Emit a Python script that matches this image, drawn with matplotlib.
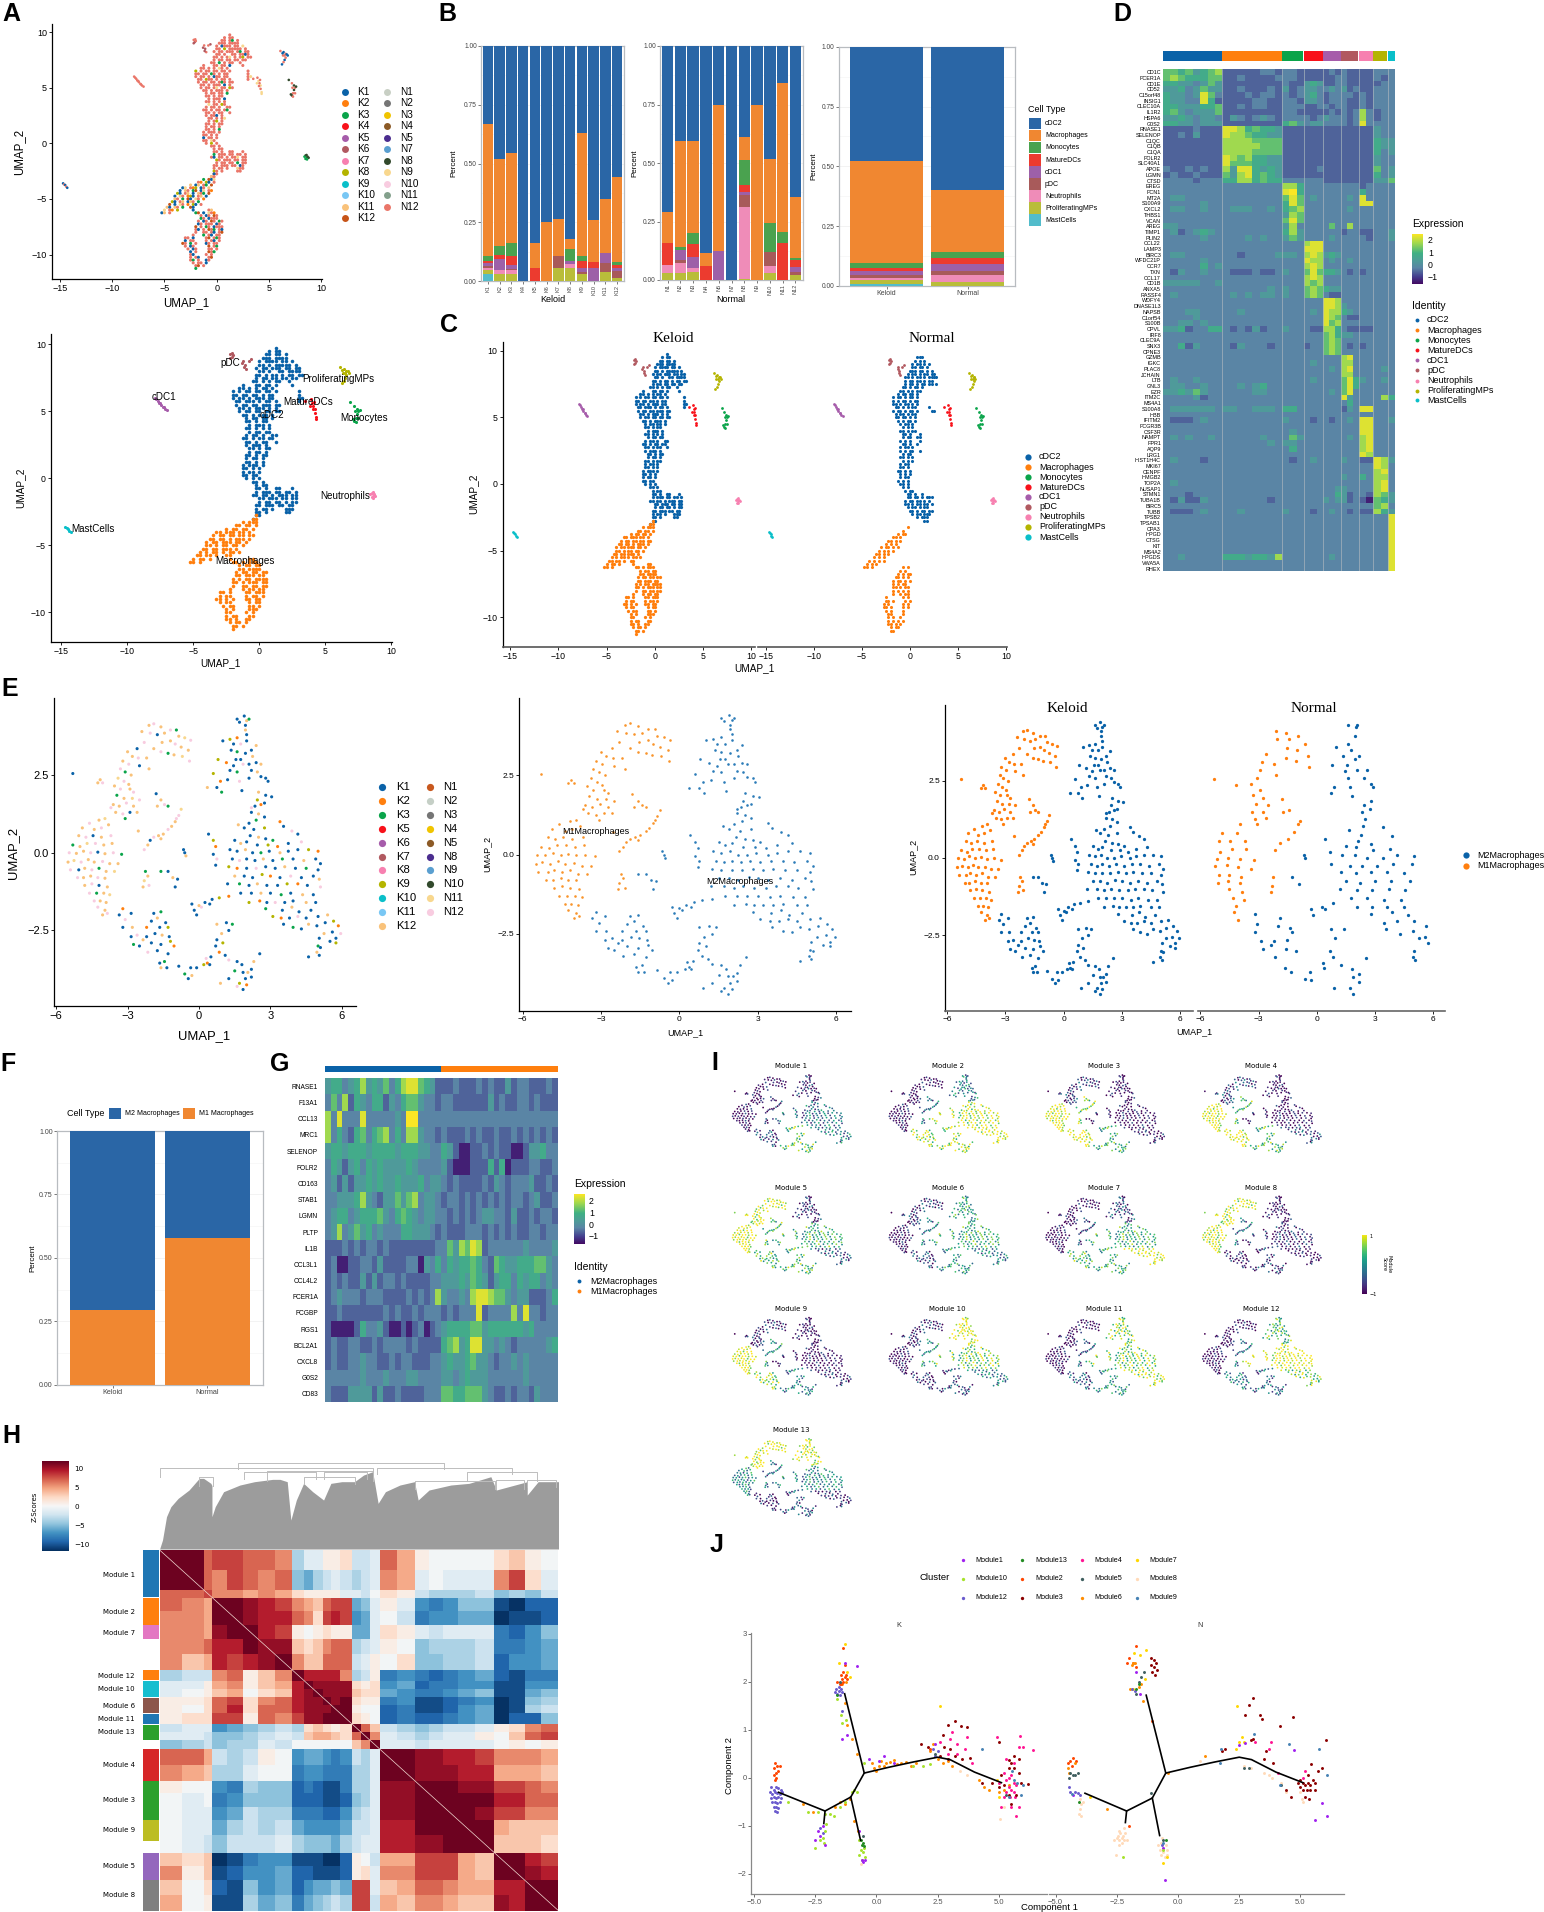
import numpy as np
import matplotlib
matplotlib.use('Agg')
import matplotlib.pyplot as plt
from matplotlib.colors import LinearSegmentedColormap
from matplotlib.patches import Rectangle
from matplotlib.lines import Line2D

plt.rcParams['font.family'] = ['Liberation Sans', 'DejaVu Sans']
W, H = 1544, 1912
fig = plt.figure(figsize=(W / 100, H / 100), dpi=100)

# ---------- data ----------
cell_types = ['cDC2', 'Macrophages', 'Monocytes', 'MatureDCs', 'cDC1', 'pDC', 'Neutrophils', 'ProliferatingMPs', 'MastCells']
type_colors = ['#0a62a8', '#ff7f0e', '#0aa44a', '#f8111a', '#a65caa', '#b15960', '#f780b0', '#b4b400', '#0abfc9']
bar_colors = ['#2a66a6', '#f08731', '#4aa24f', '#ec3b2f', '#9d60a8', '#a85a5a', '#ef8cb8', '#b9bd3a', '#52bccb']
sample_colors = {'K1': '#0a62a8', 'K2': '#ff7f0e', 'K3': '#0aa44a', 'K4': '#f8111a', 'K5': '#a65caa', 'K6': '#b15960',
                 'K7': '#f780b0', 'K8': '#b4b400', 'K9': '#0abfc9', 'K10': '#79c7f4', 'K11': '#f9c27a', 'K12': '#c75418',
                 'N1': '#c8cfc4', 'N2': '#757575', 'N3': '#f0c400', 'N4': '#8c5a26', 'N5': '#4b2d8f', 'N7': '#5a9fd0',
                 'N8': '#32492c', 'N9': '#f8d78e', 'N10': '#f8cce0', 'N11': '#83a08c', 'N12': '#ea7669'}
samples_K = ['K1', 'K2', 'K3', 'K4', 'K5', 'K6', 'K7', 'K8', 'K9', 'K10', 'K11', 'K12']
samples_N = ['N1', 'N2', 'N3', 'N4', 'N5', 'N7', 'N8', 'N9', 'N10', 'N11', 'N12']
e_samples_K = ['K1', 'K2', 'K3', 'K5', 'K6', 'K7', 'K8', 'K9', 'K10', 'K11', 'K12']
e_samples_N = ['N1', 'N2', 'N3', 'N4', 'N5', 'N8', 'N9', 'N10', 'N11', 'N12']
e_colors_N = ['#c8581e', '#c5cfc6', '#757575', '#f0c400', '#8c5a26', '#4b2d8f', '#5a9fd0', '#32492c', '#f8d78e', '#f8cce0']
e_colors_K = ['#0a62a8', '#ff7f0e', '#0aa44a', '#f8111a', '#a65caa', '#b15960', '#f780b0', '#b4b400', '#0abfc9', '#79c7f4', '#f9c27a']
e_sample_colors = dict(zip(e_samples_K + e_samples_N, e_colors_K + e_colors_N))

# fractions bottom-up order: Mast, Prolif, Neut, pDC, cDC1, Mature, Mono, Mac, cDC2
stack_K = [
    [.03, .015, .01, .01, .01, .01, .02, .565, .33],
    [0, .03, .015, 0, .05, .015, .04, .37, .48],
    [0, .03, .015, .005, .02, .035, .055, .385, .455],
    [0, 0, 0, 0, 0, 0, 0, 0, 1],
    [0, 0, 0, 0, 0, .055, 0, .105, .84],
    [0, 0, 0, 0, 0, 0, 0, .25, .75],
    [0, .055, 0, .05, 0, 0, 0, .16, .735],
    [0, .057, .015, 0, .015, 0, .05, .043, .82],
    [0, .03, 0, .01, .015, .03, .02, .525, .37],
    [0, 0, 0, 0, .055, .025, 0, .178, .742],
    [0, .04, 0, .035, .045, 0, 0, .227, .653],
    [0, .012, 0, .03, .015, .012, .011, .362, .558]]
stack_N = [
    [0, .03, .035, 0, 0, .095, 0, .13, .71],
    [0, .03, .042, .015, .04, 0, .015, .45, .408],
    [0, .033, .017, 0, .05, .052, .05, .39, .408],
    [0, 0, 0, 0, 0, .058, 0, .058, .884],
    [0, 0, 0, 0, .125, 0, 0, .625, .25],
    [0, 0, 0, 0, 0, 0, 0, 0, 1],
    [0, .003, .31, .05, .012, .033, .105, .10, .39],
    [0, 0, 0, 0, 0, 0, 0, .75, .25],
    [0, .03, .03, .06, 0, 0, .123, .272, .485],
    [0, 0, 0, 0, 0, .157, .05, .635, .158],
    [0, .02, 0, .015, .022, .028, .01, .26, .645]]
stack_total = [[.01, .017, .005, .013, .017, .013, .02, .427, .478],
               [0, .017, .03, .016, .027, .027, .023, .26, .60]]
m1_share = [.293, .58]

cdc2_k_rows = [
"               #", "             # ##", "            ## ## #", "           ### #### ", "          # #### ## #",
"          ## # ##### #", "         # ## ### ## ##", "          ## #  ## ####", "         ## # ## # ## ##", "         # ## ## ## ## ",
"        ## # # ##  #  ", "     #   ## ## #    #", "    ## # # ## #  ", "  # # ## ## ## #      #", "  ## ## ## # ##       #",
"  # ## # ### ##       ##", "   ## ### # ## #      #", "   # ## ## ### ##", "    ## # ### # #", "    # ## ## ## ##",
"     ## # ### #", "      # ## ## #", "      ## # ## ", "       # ### #", "      ## # # #", "       # ## ##",
"      # ## #  ##", "     ## # ## ## ", "      ## # ##  #", "      # ### #", "       ## # ##", "       # ## #",
"      ## # ##", "      # ## #", "      ## # #", "     # ### #", "     ## # #", "     # ## #", "     ## ## ", "      # # #",
"        ## #", "         # ##", "         ## #  ##   #", "         # ### ## ## #", "        ## ## # ### ##",
"          ## ### ## ##", "          # ## ## # ##", "         ## ### ## ##", "         # ## #   ###", "         ## #     ##",
"         ## ", "        #"]
mac_k_rows = [
"                     #", "                    ##", "                 # ###", "               ## ## #", "            # ## ## #",
"         ## ### ## #", "        # ## ## ## ##", "       ## ## # ### #", "      # ## ### ## #", "      ## # ## ## #",
"     ## ## ### #", "    # # ## # ## #", "   ## ## #  ## ", "  # ## #     #     ##", " ## #         ## # ###",
"                # ## ##", "                ## #### ", "               # ## ## ##", "               ## ### ## ",
"              # # ## ####", "              ## # ### ##", "              #  ## ## ##", "             #   # ## ## ",
"          ## #    ## ###", "          # ##    # ## #", "         ## # #   ## ##", "          # ##     # ##",
"           # ##    ## #", "            # #    ###", "            ##    # #", "            # ##   ##",
"            ## #  ##", "             # ## #", "              ## #", "              # "]
cdc2_n_rows = [
"             ###", "            # # #", "           # ## # #", "           ## ## # ", "          ### ## # #", "         # ## # ## ##",
"        ## # ## # ####", "        # ## ## # ## ", "        # ## # ## ## #", "       ## # ## #  ", "      ## # # ## ", "     # ## ## # ",
"   # ## # ## # ", "   # # ## # ##", "   ## # ## # #     ", "    ## # # ##     #", "   # ## # ## #     ## ", "    # ## # ##",
"    ## ## # #", "     # # ## #", "      # ## #", "       # # #", "      ## # ##", "       ## #   #", "       # ##  ## ",
"      # # #   #", "       ## #  #", "      # ## #", "      # # ##  #", "       # ## ", "      ## # #", "       # # #",
"      # ## ", "      ## # ", "     ## # #", "      # # #", "      # ##", "     # # #", "      ## # ", "       # # ",
"        # ##", "         ## #  # ", "         ## ## # ###", "        # ## ## # #", "        ## # ## ## #", "         # ## # ##",
"          ## # ## ## ", "           # ## ###", "             # ###", "                ##"]
mac_n_rows = [
"                     #", "                   # ", "                 # ## ", "               ## # ", "             ## # #", "            # # # ",
"          # ## # #", "         # # # #", "        ## # #", "       # # # ", "     # # # # ", "    # # #  ", "   ## #            # #",
"                  # # ", "                 # # ##", "                ## # #", "               # ## # #", "               # # ## ",
"               ## # ##", "               # # # #", "               #  # ##", "            #      # #", "            ## #    # #",
"           # #     # #", "           ## #    # #", "            # #    # ", "             ##    # ", "             # #  #",
"             # # # #", "             ## # #", "              # ## ", "              ## "]

small_clusters = {
 'pDC': [(-2.2, 9.3), (-2.1, 9.1), (-2, 9.2), (-2.2, 9.0), (-1.2, 8.8), (-1.1, 8.5), (-1, 8.2), (-1.3, 8.6), (-.8, 8.8), (-.6, 8.9), (-2.05, 9.35), (-1.15, 8.3)],
 'cDC1': [(-7.9, 6), (-7.8, 5.9), (-7.7, 5.8), (-7.6, 5.65), (-7.45, 5.5), (-7.3, 5.35), (-7.15, 5.2), (-7, 5.1), (-7.5, 5.6), (-7.25, 5.3)],
 'ProliferatingMPs': [(6.1, 8.3), (6.4, 8.2), (6.6, 8.05), (6.8, 7.9), (6.6, 7.7), (6.5, 7.5), (6.4, 7.3), (6.25, 7.1), (6.5, 7.9), (6.7, 8), (6.35, 7.9), (6.3, 8.1)],
 'MatureDCs': [(3.9, 5.9), (4, 5.6), (4.1, 5.4), (4.2, 5.2), (4.2, 4.9), (4.3, 4.6), (3.5, 5.8), (3.85, 5.4), (4.05, 5.15), (4.3, 4.45), (4.15, 5.7)],
 'Monocytes': [(6.9, 5.7), (7.2, 5.4), (7.4, 5.2), (7.5, 5), (7.4, 4.8), (7.3, 4.5), (7.2, 4.3), (7.5, 4.5), (7.6, 5.1), (7.25, 5.0), (7.1, 4.4), (7.3, 4.2)],
 'Neutrophils': [(8.5, -1.1), (8.6, -1.3), (8.7, -1.2), (8.5, -1.4), (8.8, -1.3), (8.4, -1.2), (8.6, -1.05), (8.65, -1.45)],
 'MastCells': [(-14.7, -3.6), (-14.6, -3.7), (-14.5, -3.75), (-14.4, -3.9), (-14.3, -4.0)]}

umap_label_pos = {'pDC': (-2.2, 8.6), 'cDC1': (-7.2, 6.08), 'ProliferatingMPs': (6.0, 7.43), 'MatureDCs': (3.7, 5.71), 'cDC2': (.96, 4.74),
                  'Monocytes': (7.93, 4.5), 'Neutrophils': (6.5, -1.3), 'MastCells': (-12.6, -3.8), 'Macrophages': (-1.08, -6.16)}

cdc2_sample_codes = ['N12'] * 7 + ['K3'] + ['N12'] * 9 + ['K1'] + ['N12'] * 5 + ['N9', 'N12', 'N12', 'K8'] + ['N12'] * 6
mac_upper_codes = ['K1', 'K11', 'N12', 'K3', 'K12', 'K1', 'N9', 'N12', 'K2', 'K8', 'K1', 'N12', 'K11']
mac_lower_codes = ['N12', 'N12', 'K1', 'N12', 'K12', 'N12', 'K3', 'N12', 'K1', 'N12', 'N12']

# Macrophage UMAP regions
mp_TL = [(-2.1,4.1),(-1.9,4.15),(-1.6,4.05),(-2.4,3.9),(-2.05,3.85),(-1.75,3.8),(-1.45,3.85),(-1.2,3.95),(-.95,3.95),(-.85,3.75),(-.6,3.7),(-.35,3.62),(-1.55,3.55),(-1.2,3.6),(-1,3.5),(-.75,3.4),(-.45,3.3),(-2.3,3.55),(-2.6,3.35),(-1.9,3.35),(-1.6,3.25),(-1.3,3.2),(-1.05,3.15),(-.7,3.1),(-.4,2.95),(-3,3.25),(-2.8,3.1),(-2.55,3.05),(-2.2,3.05),(-3.2,2.95),(-2.95,2.85),(-2.5,2.8),(-2.1,2.7),(-3.3,2.7),(-3.1,2.6),(-2.85,2.5),(-3.4,2.4),(-3.15,2.3),(-2.95,2.2),(-3.55,2.15),(-3.3,2.05),(-4.25,2.25),(-4.15,2.35),(-4.05,2.25),(-5.3,2.55),(-2.9,2.05),(-2.75,1.95),(-3.45,1.85),(-3.15,1.75),(-2.8,1.75),(-2.5,1.7),(-3.6,1.55),(-3.35,1.5),(-3.05,1.6),(-2.75,1.5),(-3.5,1.3),(-3.2,1.25),(-2.9,1.3),(-2.6,1.3),(-3.7,1.45),(-3.1,1.1)]
mp_L = [(-4.2,1.05),(-3.95,1.1),(-4.6,.95),(-4.9,.8),(-4.4,.75),(-4.1,.8),(-3.8,.9),(-5.05,.55),(-4.75,.5),(-4.45,.55),(-4.1,.5),(-3.7,.55),(-5.3,.25),(-5,.2),(-4.7,.3),(-4.35,.3),(-4,.25),(-3.65,.3),(-5.45,0),(-5.15,-.02),(-4.85,.05),(-4.55,0),(-4.25,.02),(-3.95,-.03),(-3.6,0),(-3.25,-.05),(-5.5,-.3),(-5.25,-.25),(-4.95,-.3),(-4.65,-.22),(-4.4,-.3),(-4.05,-.28),(-3.75,-.35),(-3.4,-.35),(-5.4,-.55),(-5.05,-.55),(-4.8,-.5),(-4.5,-.55),(-4.2,-.5),(-3.9,-.6),(-3.55,-.6),(-5.1,-.8),(-4.85,-.8),(-4.55,-.75),(-4.25,-.8),(-3.95,-.82),(-4.8,-1.05),(-4.5,-1),(-4.2,-1.05),(-3.85,-1.1),(-4.6,-1.3),(-4.3,-1.3),(-4,-1.3),(-3.75,-1.35),(-4.4,-1.55),(-4.15,-1.55),(-3.9,-1.6),(-4.25,-1.75),(-3.95,-1.85),(-4.05,-2),(-3.85,-1.95)]
mp_IN = [(-1.8,1.9),(-1.6,1.7),(-1.45,1.55),(-1.3,1.5),(-1.75,1.5),(-.75,1.4),(-.85,1.2),(-1,1),(-1.15,.85),(-1.3,.75),(-1.5,.6),(-1.6,.45),(-1.9,.5),(-2.05,.4),(-2.15,.25),(-2.3,.1),(-2.25,-.6),(-2.15,-.75),(-2.3,-.9),(-2.1,-1.05),(-2.35,-1.1),(-2.55,.7),(-.95,1.1),(-1.7,.55)]
mp_TR = [(1.6,4.3),(1.9,4.4),(2,4.25),(1.7,4.2),(2.1,4.3),(1.95,4.1),(1.95,3.95),(2,3.8),(1,3.6),(1.3,3.65),(1.6,3.7),(1.45,3.5),(1.75,3.5),(2,3.6),(2.2,3.3),(2.4,3.45),(1.35,3.3),(1.6,3.25),(1.95,3.2),(2.25,3.1),(1.55,3),(1.75,3),(.8,3),(1.15,2.9),(1.45,2.8),(1.85,2.85),(2.1,2.85),(2.4,2.9),(2.6,2.85),(1.3,2.65),(1.6,2.6),(2.2,2.65),(2.45,2.6),(2.6,2.45),(2.8,2.4),(.6,2.55),(.9,2.3),(1.2,2.35),(1.7,2.3),(2.1,2.4),(2.9,2.3),(.35,2.1),(.75,2.1),(.95,1.95),(1.8,2),(2.5,1.95),(2.8,1.85),(3.05,1.8),(2.45,1.7),(2.6,1.55),(2.35,1.5),(2.2,1.45),(2.75,1.6)]
mp_R = [(2.2,1.3),(2.5,1.25),(2.75,1.15),(2.4,1.05),(2.1,.95),(1.65,.9),(1.9,.8),(2.3,.75),(2.75,.8),(3.4,1),(3.55,.85),(3.9,.7),(4.15,.6),(2.15,.55),(2.5,.5),(2.8,.45),(3.1,.4),(1.5,.4),(1.75,.3),(2,.35),(2.45,.25),(2.9,.25),(3.3,.2),(3.75,.3),(4.3,.35),(1.3,.1),(1.6,.05),(1.95,.1),(2.25,0),(2.6,0),(2.95,.05),(3.4,0),(3.75,.05),(4.15,.1),(4.6,.1),(5,.05),(1.4,-.2),(1.7,-.25),(2,-.2),(2.35,-.25),(2.7,-.2),(3.1,-.25),(3.5,-.2),(3.95,-.2),(4.4,-.25),(4.9,-.2),(5.1,-.35),(1.25,-.45),(1.6,-.5),(2,-.5),(2.4,-.5),(2.8,-.45),(3.2,-.5),(3.6,-.45),(4.05,-.5),(4.5,-.5),(5,-.55),(1.5,-.75),(1.9,-.75),(2.25,-.8),(2.65,-.7),(3,-.75),(3.4,-.8),(3.85,-.75),(4.3,-.8),(4.8,-.75),(5.05,-.85),(1.2,-1),(1.7,-1),(2.1,-1.05),(2.45,-1),(2.85,-1.05),(3.3,-1.05),(3.7,-1),(4.15,-1),(4.55,-1.05),(5.1,-1.1),(1.75,-1.3),(2.2,-1.3),(2.6,-1.3),(3,-1.3),(3.45,-1.35),(3.85,-1.3),(4.35,-1.35),(4.8,-1.35),(.4,.6),(.6,.4),(.7,.2),(.6,-.05),(.75,-.2),(.7,-.4),(-.6,0),(-.55,-.1),(-.65,.1),(-1.6,-.6),(-1.3,-.6),(-1.1,-.8),(-.9,-.85),(-1,-1.1)]
mp_LR = [(2.1,-1.6),(2.55,-1.55),(2.85,-1.6),(3.2,-1.6),(3.6,-1.6),(3.95,-1.55),(4.5,-1.6),(4.9,-1.6),(2.8,-1.8),(3.5,-1.85),(3.9,-1.75),(4.2,-1.9),(4.7,-1.85),(3.1,-2.05),(3.45,-2.1),(3.8,-2.1),(4.15,-2.05),(4.5,-2.1),(5,-2.05),(5.4,-2),(3.55,-2.3),(3.95,-2.4),(4.3,-2.45),(4.6,-2.3),(4.95,-2.35),(5.3,-2.25),(5.65,-2.2),(5.85,-2.35),(5.6,-2.55),(5.95,-2.6),(5.75,-2.75),(5.5,-2.85),(5.25,-2.6),(5.05,-2.75),(5,-3),(5.1,-3.05),(4.95,-3.2),(4.6,-3.35),(5.05,-3.3),(5.75,-2.9)]
mp_BL = [(-3.2,-1.8),(-3.35,-2),(-3.1,-2.15),(-2.85,-1.95),(-3.2,-2.4),(-2.8,-2.4),(-1.9,-1.95),(-1.6,-1.9),(-2,-2.2),(-1.75,-2.1),(-1.4,-2.25),(-1.65,-2.4),(-1.3,-2.4),(-2.2,-2.4),(-2.85,-2.7),(-2.6,-2.65),(-2.2,-2.7),(-1.85,-2.6),(-1.55,-2.65),(-1.25,-2.7),(-2.75,-2.95),(-2.5,-3),(-2.35,-2.8),(-2,-2.9),(-1.6,-2.95),(-1.2,-2.85),(-1.05,-3),(-1.75,-3.15),(-2.15,-3.2),(-1.3,-3.25),(-1.65,-3.55),(-1.6,-3.7),(-1.35,-3.7),(-1.45,-3.5)]
mp_BC = [(-.3,-1.65),(0,-1.7),(.25,-1.6),(.55,-1.5),(.85,-1.45),(1.25,-1.4),(-.2,-1.85),(.1,-1.75),(.45,-1.65),(-.1,-2),(.75,-2.3),(1.15,-2.25),(1.4,-2.3),(1.25,-2.5),(.95,-2.6),(.75,-2.8),(.7,-3),(1,-2.9),(.85,-3.2),(1.1,-3.3),(1.25,-3.45),(1.6,-3.5),(1.8,-3.6),(2.3,-3.5),(2.55,-3.25),(1.5,-3.8),(1.85,-3.85),(2.05,-3.85),(2.2,-3.75),(1.95,-4.05),(1.7,-4.2),(2,-4.25),(1.85,-4.4),(1.6,-4.3),(2.2,-4),(1.25,-4.05),(.9,-4.2),(-.85,-3.65),(-.6,-3.9),(-.45,-4.05),(-.3,-3.95),(-.1,-3.7),(-.35,-3.7),(.2,-3.6),(.35,-3.55),(.45,-3.6),(.3,-3.4),(.5,-3.35)]
m1_codes = ['K12', 'N12', 'K12', 'K12', 'N12', 'K1', 'K12', 'N12', 'K3', 'K12', 'N11', 'N12', 'K12']
m2_codes = ['K1', 'K1', 'K12', 'K1', 'K3', 'K1', 'K12', 'K1', 'K1', 'K9', 'K2', 'K1', 'N12']

module_names_i = ['Module %d' % i for i in range(1, 14)]
# score per region: TL, L, IN, TR, R, LR, BL, BC
module_scores = [
    [-1, -1, -.8, -.8, -.3, -.2, -.6, .4],
    [-1, -1, -.3, -.2, .8, 1, .7, .7],
    [-.7, 1, .6, -1, -1, -.9, 1, .2],
    [-.6, 1, .3, -1, -1, -.6, 1, .3],
    [.9, 1, .3, -.8, .2, -.5, .3, .3],
    [-.7, -1, -.2, .1, .2, -.2, -.6, 0],
    [-1, -1, -.6, -.6, .2, 1, .3, .2],
    [.9, .9, -.3, -1, -.8, -1, -.9, -.7],
    [-.8, 1, 0, -1, -1, -.8, .6, -.2],
    [-.8, -1, 0, 1, .5, -.2, -.8, -.6],
    [-1, -1, -.5, .6, .5, .8, -.5, 0],
    [-1, -1, -.3, .3, 1, .5, -.2, -.4],
    [1, -.1, -.3, .9, -.1, -.8, -.9, -.5]]
score_spread = [-.3, .4, -.1, .25, -.5, .1, .6, -.35, .15, -.2, .45]

genes_d = ['CD1C','FCER1A','CD1E','CD52','C15orf48','INSIG1','CLEC10A','IL1R2','HSPA6','G0S2','RNASE1','SELENOP','C1QC','C1QB','C1QA','FOLR2','SLC40A1','APOE','LGMN','CTSD','EREG','FCN1','MT2A','S100A9','CXCL2','THBS1','VCAN','AREG','TIMP1','PLIN2','CCL22','LAMP3','BIRC3','WFDC21P','CCR7','TXN','CCL17','CD1B','ANXA5','RASSF4','WDFY4','DNASE1L3','NAPSB','C1orf54','S100B','CPVL','IRF8','CLEC9A','SNX3','CPNE3','GZMB','IGKC','PLAC8','JCHAIN','LTB','GNL3','EZR','ITM2C','MS4A1','S100A8','HBB','IFITM2','FCGR3B','CSF3R','NAMPT','FPR1','AQP9','LRG1','HIST1H4C','MKI67','CENPF','HMGB2','TOP2A','NUSAP1','STMN1','TUBA1B','BIRC5','TUBB','TPSB2','TPSAB1','CPA3','HPGD','CTSG','KIT','MS4A2','HPGDS','VWA5A','RHEX']
heat_d = [
"55453456 11111221 221 111 121 211 11 22 2","56544455 11211112 221 111 112 211 11 21 2","44332353 11111111 211 343 112 211 11 12 2","33423533 11211121 312 332 232 312 11 22 2",
"43323752 11121221 212 342 122 221 21 22 2","43322741 11112211 221 332 122 211 21 22 2","44333445 11212211 222 112 212 211 21 22 2","45323335 11111111 221 111 121 212 62 12 2",
"33432332 13212321 222 212 322 212 62 12 2","44332333 11111111 453 233 222 212 72 22 2",
"11112111 77645443 111 111 111 111 11 32 2","11213111 76654433 111 111 111 111 11 32 2","11111111 66665555 111 111 111 111 11 43 3","11111111 66666555 111 111 111 111 11 43 3",
"11111111 66665555 111 111 111 111 11 42 3","11111111 76564433 111 111 111 111 11 32 2","11111111 75554433 111 111 111 111 11 32 2","21121211 63774343 111 112 111 111 11 52 3",
"12112111 53674543 111 111 111 111 11 42 3","22221222 44664544 222 222 111 111 11 33 5",
"22222222 22222222 664 222 222 222 12 22 2","22222222 22222222 784 222 222 222 42 22 2","23322222 22222222 575 232 222 232 72 22 2","22222322 22222222 475 222 222 222 77 22 2",
"23322322 23332232 456 222 222 232 22 22 2","22222222 22222222 365 222 222 222 22 22 2","22222222 22222222 575 222 222 222 22 22 2","33222222 22222222 362 222 252 262 22 22 2",
"23123432 22222222 463 222 222 122 11 22 3","22222322 22232322 353 222 232 222 21 22 3",
"22222222 22222222 222 677 222 222 22 22 2","22222222 22222222 222 777 222 222 22 22 2","23322222 22122223 332 676 343 222 22 22 2","22222322 22222222 222 766 232 232 22 22 2",
"22222423 22222222 222 676 222 222 22 22 2","21322322 21112112 322 575 443 212 12 22 2","22222222 22222222 222 676 222 222 22 22 2","33333223 22222222 222 656 222 222 22 22 2",
"22222222 22222232 322 565 433 222 22 22 2","23222222 23232332 322 565 211 222 22 22 2",
"22222222 22222222 222 222 776 222 22 22 2","22222222 22222222 222 222 776 322 22 22 2","22233222 22322222 222 232 766 432 22 22 2","22223222 22222222 222 222 765 211 22 22 2",
"22332322 22222222 222 222 756 222 22 22 2","33412244 21213122 322 211 664 211 11 22 2","22222222 22222222 222 222 564 332 22 22 2","22222222 22222222 222 222 565 222 22 22 2",
"22413222 21322212 222 122 565 212 12 22 2","22222222 22222222 222 222 565 222 22 22 2",
"22222222 22222222 222 222 222 672 22 22 2","22222222 22222222 222 232 222 662 22 22 2","22222222 22222222 222 222 232 672 22 23 2","22222222 22222222 222 222 222 662 22 22 2",
"23223222 22222222 222 232 222 574 32 23 2","23322322 22323422 222 222 222 574 22 22 2","33435322 22223322 222 222 232 572 22 22 2","22223122 22222222 222 222 222 732 22 26 4",
"22222222 22222222 222 222 222 242 22 22 2",
"23333332 33223332 442 222 222 132 77 22 2","22222222 22222222 222 222 222 222 22 22 2","21112322 22222222 322 212 212 232 77 22 3","22222222 22222222 222 222 222 222 77 22 2",
"22222222 22222222 232 222 222 222 77 22 2","23232232 22222322 253 222 222 232 67 22 2","22222222 22222232 332 222 222 222 67 22 2","22222222 22222222 242 222 222 222 67 22 2",
"22222222 22222222 222 222 222 222 76 22 2",
"23222122 22222222 212 232 222 322 11 76 3","22222222 22222222 222 222 222 222 22 76 2","22222222 22222222 222 222 222 222 22 67 2","22222222 22222222 222 222 222 322 42 66 2",
"23222222 22222222 222 222 222 222 22 67 2","22222222 22222222 222 222 223 322 22 67 2","22212222 22222222 222 222 224 312 21 65 3","21311322 22222212 222 222 323 312 10 54 3",
"22222222 22222222 222 222 222 222 22 56 2","21112322 22322222 322 212 232 212 11 64 3",
"22222222 22222222 222 222 222 222 22 22 7","22222222 22222222 222 222 222 222 22 22 7","22222222 22222222 222 222 222 222 22 22 7","22222222 22222222 222 222 222 222 22 22 7",
"22222222 22222222 222 222 222 222 22 22 7","22222222 22222222 222 222 222 222 22 22 7","22222222 22222222 222 222 222 222 22 22 7","22322222 44434436 222 222 232 222 22 22 7",
"22222222 22222222 222 222 222 222 22 22 7","22222222 22222222 222 222 222 222 22 22 7"]
cluster_share_d = [178, 180, 63, 59, 54, 52, 44, 44, 22]
cluster_cols_d = [8, 8, 3, 3, 3, 3, 2, 2, 1]
digit_values = [-.9, -.3, 0, .42, .84, 1.26, 1.68, 2.1, 2.3]

genes_g = ['RNASE1','F13A1','CCL13','MRC1','SELENOP','FOLR2','CD163','STAB1','LGMN','PLTP','IL1B','CCL3L1','CCL4L2','FCER1A','FCGBP','RGS1','BCL2A1','CXCL8','G0S2','CD83']
heat_g = [
"34423463435246775431 11211121211312211121","25261432441324553221 22111111312112212111","62722272222232882222 22222222222222222222","62421452456242663221 21112121121121212121",
"34434443444434443322 43100112121100133422","24313424343333432222 31000111414011122112","23131334343343334233 21211112132122231121","22333463213353562332 12212121212122123112",
"23442344453245432332 21212123322131121221","23623534232224433321 21112221212121122122","11121212212111111112 25365761222222322223","12001122131111220324 24344542154334445532",
"12121131312212111122 33343543134424344232","12322212221111212126 32232677655323311124","11211111112121121222 12122271222262722122","10000142231001012012 34444553444444342222",
"12112211212222121111 45634773323212222234","12112232211212211122 34334533212232322222","22222232223222332222 33234333222222322222","21113333131121111222 55445553211212213222"]

h_edges = [390,450,510,533,574,615,656,703,750,782,807,832,856,880,912,937,960,988,1035,1083,1120,1160,1200,1245,1298,1339,1380,1425,1472]
h_rows = [
"xx6 776 65 c aa 11 2 bb a 64 100 00 23 10",
"xx6 576 56 d ec ba b cb a 54 a0a aa 57 2a",
"667 554 54 2 11 11 a ab 0 21 bcc cb dc db",
"654 xx9 87 5 43 67 7 ed a 1a fgf dd ij hh",
"554 xx9 88 6 52 78 7 fe a 0b gff ee ji ih",
"554 9xx 87 1 01 21 1 ee a 21 aba aa gh fd",
"556 88x 99 3 23 56 6 cb a 10 dcc cb gg fe",
"534 878 9x 5 33 66 6 ba 1 02 ddc cb hf fe",
"cbb 561 35 x 88 88 5 cb 1 gf ghg fe hi gg",
"aa1 451 34 8 x9 99 9 21 2 fe hgg ff ii ff",
"a01 340 23 8 9x 99 9 32 2 ef ggf ed ii ed",
"112 672 56 8 99 x9 x 21 1 gf iih gf ji dc",
"102 682 66 8 99 9x x 10 0 hg iih fe ji cb",
"122 771 65 7 99 xx x 21 0 hg hhg fe jh hd",
"baa fed cb c 23 21 2 x6 3 bc dcb ba 12 56",
"aab ddc ba b 34 43 2 6x 5 ab cba a1 03 67",
"dcb dcc ab 0 00 00 0 35 x aa baa aa 01 01",
"664 bcb 10 f ee fg f bc a xx 998 87 55 54",
"543 cca 00 g ff gg g cc a xx 999 88 44 43",
"100 fgc dd h gh ii g cc a 99 xxx 99 77 65",
"0a0 gfd dd h hh ii h dc a 99 xxx xx 88 66",
"0aa feb cc g gg hh f cb a 99 xxx x9 77 55",
"0aa ecb cb e ff ff e bb a 88 xxx xx 43 33",
"0ab dbb ba c dd de c ba a 88 99x xx 33 32",
"323 jig ff i ii jj h 10 b 44 777 43 xx 87",
"513 ihf fe h hi ii h 12 a 55 777 43 xx 98",
"302 hid fe h fe ed e 77 a 34 665 44 88 xx",
"401 iic ed g ed cb c 77 b 43 554 33 98 xx"]
h_modules = ['Module 1','Module 2','Module 7','Module 12','Module 10','Module 6','Module 11','Module 13','Module 4','Module 3','Module 9','Module 5','Module 8']
h_mod_span = [(390,532),(533,615),(616,656),(750,780),(782,832),(833,880),(881,912),(915,960),(988,1083),(1084,1200),(1200,1262),(1298,1380),(1380,1472)]
h_mod_color = ['#1f77b4','#ff7f0e','#e377c2','#ff7f0e','#17becf','#8c564b','#1f77b4','#2ca02c','#d62728','#2ca02c','#bcbd22','#9467bd','#7f7f7f']
h_mod_labely = [465,576,639,768,806,857,897,937,1035,1140,1231,1338,1425]
dend_x = [0,8,19,31,51,81,109,121,141,144,144,153,176,221,261,311,331,351,361,361,376,396,421,451,471,501,536,561,586,601,601,621,661,701,711,711,741,801,851,911,926,926,1011,1011,1041,1097]
dend_h = [0,27,97,127,152,177,212,212,197,190,97,127,172,192,202,209,209,202,87,87,147,197,172,147,197,202,202,222,232,137,137,172,192,202,147,147,177,192,197,217,177,177,202,162,202,202]
dend_links = [(215,783,259,239),(0,586,242,217),(598,968,242,225),(231,429,230,210),(294,586,235,205),(451,571,232,210),(701,921,204,180),(846,1039,230,205),(396,536,217,195),(109,146,215,190),(926,1001,207,180),(1011,1091,207,185)]

clusters_j = ['Module1','Module10','Module12','Module13','Module2','Module3','Module4','Module5','Module6','Module7','Module8','Module9']
colors_j = ['#a020f0','#a6e22a','#6a5acd','#228b22','#ff4500','#8b0000','#ff1493','#3f5f5f','#ff8c00','#ffd700','#ffdab9','#4682b4']
pts_k = {
 'Module6': [(-.1,.2),(0,.15),(.1,.25),(.3,.25),(.4,.3),(.55,.32),(.7,.38),(.85,.28),(1,.3),(1.2,.32),(1.4,.25),(1.6,.3),(-.2,.3),(.2,.35),(-1.2,1.1),(-1,.8),(-.8,.5),(-1.1,-.45),(-1.3,-.55),(-1.5,-.5),(-1.7,-.6),(-.9,-.9),(-.75,-1.1),(2.2,.55),(2.5,.4),(2.7,.3),(2.9,.35),(3.1,.25),(2.3,.7),(4.2,-.05),(4.4,-.2),(4.6,-.25),(5,-.3),(5.2,-.25),(5.4,-.15),(-2.6,-.7),(-3,-.55),(-1.4,1.95),(-1.3,1.55),(-1.25,2)],
 'Module12': [(-4.3,-.2),(-4.2,-.25),(-4.1,-.2),(-4,-.22),(-3.9,-.25),(-4.35,-.3),(-4.25,-.33),(-4.15,-.3),(-4.05,-.32),(-3.95,-.33),(-3.85,-.3),(-4.3,-.42),(-4.2,-.4),(-4.1,-.42),(-4,-.4),(-3.9,-.42),(-4.25,-.5),(-4.15,-.5),(-4.05,-.52),(-3.95,-.5),(-4.2,-.6),(-4.1,-.6),(-4,-.62),(-4.15,-.68),(-4.05,-.7),(-1.65,1.85),(-1.55,1.8),(-1.45,1.85),(-1.6,1.75),(-1.5,1.72),(-1.4,1.78),(-1.55,1.9),(-1.7,1.78),(-2.3,-1.05),(-2.2,-1.15),(2.3,.6),(2.5,.55),(2.4,.45),(-1.4,1.4)],
 'Module2': [(-4.2,.05),(-4.1,.1),(-4,.15),(-4.2,.2),(-4.05,.25),(-4.15,.3),(-3.95,.25),(-4.1,0),(-4.15,-.05),(-1.6,2),(-1.5,1.95),(-1.4,2.05),(-1.35,2),(-1.3,2.1),(-1.25,2.15),(-1.2,2.05),(-1.45,2.15),(-1.35,2.2),(-1.3,2.35),(-1.35,2.7),(-1.45,1.95),(2.2,.6)],
 'Module10': [(-2.8,-.7),(-2.4,-.7),(-2.1,-.75),(-1.9,-.75),(-1.75,-.8),(-1.5,-.6),(-1.3,-.5),(-1,-.3),(-.9,-.25),(-.8,-.3),(-2.5,-1.45),(-2.3,-1.3),(-2.2,-1.25),(-2.1,-1.1),(-2.15,-1.35),(-2.05,-.95),(-.7,-1.3),(-.65,-1.5),(-.55,-1.55),(-.6,-1.7),(-.7,-1.6),(-.5,-1.45),(-.45,-1.65),(-1.45,1.3),(-1.25,1.2),(-1.4,1.15),(-1.6,1.65),(1.5,.25),(1.9,.25),(2.2,.28),(-3.6,-.5),(-.5,.3)],
 'Module13': [(-.6,-1.4),(-.55,-1.35),(-.5,-1.42),(-.62,-1.3),(-1.6,1.72)],
 'Module1': [(-2.5,-1.3),(-2.3,-1.2),(-2.2,-1),(-2.4,-1.1),(-2.1,-1.4),(-.7,-1.1),(-.6,-1.7),(-.45,-1.7),(-.55,-1.75),(-.3,.4),(.1,.35),(.3,.45),(.7,.3),(-1.2,.9),(2.4,.7),(-.8,2.33),(-1.3,2.4),(-1.4,.8)],
 'Module4': [(5,-.1),(5.2,.1),(5.3,-.05),(5.4,0),(5.5,.05),(5.6,-.1),(5.7,-.15),(5.4,-.2),(5.5,-.25),(5.3,-.3),(5.6,-.3),(5.2,-.4),(5.45,-.4),(5.65,-.4),(5.1,-.6),(5.5,-.6),(5.8,-.6),(5.7,-.8),(5.3,.4),(5.6,.3),(4.9,.85),(5.8,.65),(6,.65),(6.4,.57),(5.85,.88),(2.6,.75),(3.1,.95),(3.3,.5),(3,.8),(3.7,.85),(3.6,.6),(3.3,.7),(3.9,.3),(2.9,.5)],
 'Module3': [(5.1,.05),(5.4,.2),(5.6,.2),(5.8,.1),(5.9,-.1),(5.7,-.35),(5.4,-.35),(5.2,-.15),(5.5,.3),(5.8,.4),(5.6,.45),(5.4,.38),(5,-.2),(4.7,-.1),(4.3,-.1),(5.5,-.55),(2.7,.9),(2.9,1.1),(3.2,1.18),(3.45,1.07),(3.7,1.05),(2.1,.65),(1.8,.7),(2.75,.65),(3,.6),(2.6,.45),(2.9,.4),(3.2,.45),(3.5,.4),(3.8,.42),(5,.75),(6.2,-.13)],
 'Module9': [(5.75,-.1),(5.9,-.35),(6,-.15),(5.6,-.05),(5.4,-.4),(4.3,.6),(5.55,.15)],
 'Module7': [(-1.3,2.78),(-1.55,2.4),(-1.2,2.2),(-1.1,2.1),(2.6,1.49),(5,-.4),(4.9,-.05)],
 'Module8': [(5.05,-.85),(-.65,-1.8),(5.2,-.6),(3.4,.15),(3.7,.05)],
 'Module5': [(-1.5,2),(5.3,-.35),(2.4,.5),(-.55,-1.2)]}
pts_n = {
 'Module8': [(-2.6,-1.3),(-2.5,-1.25),(-2.4,-1.3),(-2.3,-1.25),(-2.2,-1.3),(-2.45,-1.2),(-2.35,-1.15),(-2.25,-1.2),(-2.15,-1.15),(-2.3,-1.35),(-2.4,-1.4),(-2.55,-1.6),(-2.4,-1.1),(-2.2,-1.05),(-2.1,-1.3),(-.8,-1.4),(-.7,-1.35),(-.6,-1.45),(-.5,-1.4),(-.75,-1.5),(-.6,-1.55),(-.45,-1.5),(-.7,-1.6),(-.55,-1.65),(-.45,-1.6),(-.65,-1.25),(-4,-.45),(-3.95,-.55),(-4,-.65),(-4.05,-.75),(-3.95,-.8),(-3.9,-.5),(3.5,.1),(3.7,.05),(3.85,0),(4.2,-.1),(4.4,-.3),(5,-.3),(5.05,-.45),(5.1,-.5),(2.7,.25),(3,.2),(.9,.35)],
 'Module2': [(-4.5,.3),(-4.35,.25),(-4.3,.42),(-4.4,.35),(-4.15,.35),(-1.7,2.75),(-2.1,2.4),(-2,2.5),(-1.85,2.4),(-1.7,2.3),(-2,-1),(-1.07,1.18)],
 'Module6': [(-4.5,.2),(-4.2,.3),(-1.85,2.4),(-1.75,2.38),(-1.9,2.35),(-1.95,1.85),(-1.6,1.9),(-1.5,1.95),(-1.45,1.6),(-4.45,.1),(-.4,.1),(1.1,.45),(-2.9,-.65)],
 'Module7': [(-1.8,2.6),(-1.55,2.55),(-1.3,2.65),(-1.35,2.05),(-1.85,1.85),(2.4,1.5),(2.6,.85),(2.5,.75),(2.35,.6),(2.7,.75),(-3.6,-.4),(-.6,-1.78),(-.45,-1.65)],
 'Module3': [(-1.1,2.5),(-1,2.45),(-.9,2.4),(-1,2.3),(-.85,2.25),(-1.05,2.2),(-.95,2.15),(-1.1,2.35),(2.9,1.52),(3.05,1.67),(2.75,1.3),(3.35,1.3),(3.45,1.22),(4.15,1.08),(4.7,1.26),(3.05,.8),(3,.78),(1.9,.6),(1.8,.55),(3.5,.4),(3.6,.55),(3.9,.3),(4.4,-.25),(4.6,-.4),(4.9,-.1),(5,-.05),(5.1,-.1),(5.2,-.15),(5.3,-.1),(5.4,-.15),(5.5,-.05),(5,-.2),(5.1,-.25),(5.25,-.25),(5.4,-.25),(5.2,-.4),(5.35,-.45),(5.6,-.25),(5.6,-.1),(5.3,.05),(5.7,.15),(5.45,.28),(6.05,.78),(5.9,.2)],
 'Module4': [(3.8,.75),(3.7,.6),(3.15,.75),(5.1,0),(5.2,.15),(4.1,.1)],
 'Module12': [(-4.4,-.3),(-4.2,-.3),(-4.1,-.32),(-4,-.35),(-1.9,1.85),(-1.75,1.8),(-.65,-1.4),(-4.45,-.18)],
 'Module1': [(-4.3,-.35),(-1.7,2.2),(-1.55,1.75),(2.5,.68),(2.75,.72),(4.75,.59),(5.9,-.53),(6.1,-.8),(5.6,-.88),(-.55,-2.12),(-.6,-1.45)],
 'Module5': [(-4.4,.1),(-4.3,.05),(-4.2,.05),(-4.1,.1),(-4.45,0),(-1.5,2.1),(-1.4,2.2),(-1.6,2),(2.7,.2),(2.9,.2),(4.2,-.15),(-1.7,1.75),(-1.1,-.32),(-.6,-1.3)],
 'Module13': [(-4.05,-.5),(-1.7,1.85),(-1.6,1.95),(-.5,-1.3)],
 'Module9': [(-4.35,-.33),(1.7,.3),(4.55,.7),(6.1,.05),(5.75,.6),(3.1,.92),(1.75,.6),(-.6,-1.35),(4.15,-.15)],
 'Module10': [(-2.23,-1.64),(-.6,-1.5)]}
traj_main_k = [(-4,-.3),(-2.1,-.69),(-1.05,-.4),(-.5,.1),(.5,.22),(1.5,.33),(2.5,.43),(3,.38),(4,.12),(5.1,-.1)]
traj_branches_k = [[(-.5,.1),(-1.3,1.75)],[(-1.05,-.4),(-.65,-1.3)],[(-2.1,-.69),(-2.15,-.95)]]
traj_main_n = [(-3.8,-.32),(-2.1,-.69),(-1.05,-.42),(-.5,.1),(.5,.22),(1.5,.33),(2.5,.43),(3,.38),(4,.12),(5.1,-.1)]
traj_branches_n = [[(-.5,.1),(-1.3,1.72)],[(-1.05,-.42),(-.75,-1.2)],[(-2.1,-.69),(-2.15,-.93)]]


# ---------- helpers ----------
def AX(l, t, r, b, **kw):
    return fig.add_axes([l / W, 1 - b / H, (r - l) / W, (b - t) / H], **kw)

def T(x, y, s, size=7, ha='left', va='center', **kw):
    return fig.text(x / W, 1 - y / H, s, fontsize=size, ha=ha, va=va, **kw)

def RECT(x0, y0, x1, y1, color):
    fig.add_artist(Rectangle((x0 / W, 1 - y1 / H), (x1 - x0) / W, (y1 - y0) / H, transform=fig.transFigure, color=color, lw=0))

def DOT(x, y, color, size=5):
    fig.add_artist(Line2D([x / W], [1 - y / H], marker='o', ms=size, color=color, mew=0, ls='', transform=fig.transFigure))

def classic(ax, xticks, yticks, xl, yl, size=6.5, ylabels=None, xlabels=None):
    ax.set_xlim(*xl); ax.set_ylim(*yl)
    for s in ('top', 'right'):
        ax.spines[s].set_visible(False)
    for s in ('left', 'bottom'):
        ax.spines[s].set_linewidth(.9)
    ax.set_xticks(xticks); ax.set_yticks(yticks)
    if xlabels: ax.set_xticklabels(xlabels)
    if ylabels: ax.set_yticklabels(ylabels)
    ax.tick_params(labelsize=size, length=2, width=.6, pad=1.5)

def decode(rows, x0, dx, y0, dy):
    xs, ys = [], []
    for r, row in enumerate(rows):
        for c, ch in enumerate(row):
            if ch != ' ':
                xs.append(x0 + c * dx); ys.append(y0 - r * dy)
    return np.array(xs), np.array(ys)

cdc2_x, cdc2_y = decode(cdc2_k_rows, -2.5, .25, 9.75, .25)
mac_x, mac_y = decode(mac_k_rows, -5.5, .25, -2.75, .25)
cdc2n_x, cdc2n_y = decode(cdc2_n_rows, -2.5, .25, 9.5, .25)
macn_x, macn_y = decode(mac_n_rows, -5.5, .25, -3.25, .25)

expr_cmap = LinearSegmentedColormap.from_list('expr', [(0, '#430a63'), (.15, '#44408f'), (.32, '#5a85a5'), (.45, '#4f9a9a'), (.62, '#3fb184'), (.82, '#a0d94f'), (1, '#fbe624')])

def umap_types(ax, cx, cy, mx, my, s=2.5, s2=2.5):
    ax.scatter(cx, cy, s=s, c=type_colors[0], lw=0)
    ax.scatter(mx, my, s=s, c=type_colors[1], lw=0)
    for i, n in enumerate(cell_types[2:], start=2):
        p = np.array(small_clusters[n])
        ax.scatter(p[:, 0], p[:, 1], s=s2, c=type_colors[i], lw=0)

# ---------- panel letters ----------
for l, x, y in [('A', 11, 14), ('B', 447, 14), ('C', 449, 325), ('D', 1122, 14), ('E', 10, 689), ('F', 8, 1064), ('G', 280, 1064), ('H', 11, 1436), ('I', 715, 1063), ('J', 717, 1545)]:
    T(x, y, l, size=18, ha='center', weight='bold')

# ---------- A top ----------
ax = AX(51.7, 24, 321.7, 279.2)
classic(ax, [-15, -10, -5, 0, 5, 10], [-10, -5, 0, 5, 10], (-15.79, 10.05), (-12.22, 10.73), size=6.5)
ax.scatter(cdc2_x, cdc2_y, s=5, lw=0, c=[sample_colors[cdc2_sample_codes[i % len(cdc2_sample_codes)]] for i in range(len(cdc2_x))])
ax.scatter(mac_x, mac_y, s=5, lw=0, c=[sample_colors[(mac_upper_codes if mac_y[i] > -6.4 else mac_lower_codes)[i % (13 if mac_y[i] > -6.4 else 11)]] for i in range(len(mac_x))])
for n, codes in [('pDC', ['N12', 'K6']), ('cDC1', ['N12', 'N12']), ('ProliferatingMPs', ['N12', 'K1']), ('MatureDCs', ['N12', 'N9']), ('Monocytes', ['N8', 'N12']), ('Neutrophils', ['N8', 'K3']), ('MastCells', ['K1', 'N12'])]:
    p = np.array(small_clusters[n])
    ax.scatter(p[:, 0], p[:, 1], s=3.5, lw=0, c=[sample_colors[codes[i % 2]] for i in range(len(p))])
T(186, 303, 'UMAP_1', size=8.3, ha='center')
T(19, 151.5, 'UMAP_2', size=8.3, ha='center', rotation=90)
ky = [91.6, 103.3, 114.6, 126.4, 137.6, 148.9, 160.7, 172.4, 183.7, 195, 206.7, 218]
for i, s in enumerate(samples_K):
    DOT(345, ky[i], sample_colors[s]); T(357, ky[i], s, size=7.2)
for i, s in enumerate(samples_N):
    DOT(387, ky[i], sample_colors[s]); T(400, ky[i], s, size=7.2)

# ---------- A bottom ----------
ax = AX(50.7, 334, 391.7, 641.8)
classic(ax, [-15, -10, -5, 0, 5, 10], [-10, -5, 0, 5, 10], (-15.8, 10.03), (-12.2, 10.78), size=6.3)
umap_types(ax, cdc2_x, cdc2_y, mac_x, mac_y, s=6.5, s2=5)
for n, (x, y) in umap_label_pos.items():
    ax.text(x, y, n, fontsize=7.1, ha='center', va='center')
T(220.7, 663, 'UMAP_1', size=7.2, ha='center')
T(20, 488, 'UMAP_2', size=7.2, ha='center', rotation=90)

# ---------- B ----------
def stacked(ax, rows, width=.9):
    n = len(rows)
    bottoms = np.zeros(n)
    arr = np.array(rows, dtype=float)
    order = [8, 7, 6, 5, 4, 3, 2, 1, 0]
    for col, k in enumerate(order):
        ax.bar(np.arange(1, n + 1), arr[:, col], width, bottom=bottoms, color=bar_colors[k], lw=0, zorder=3)
        bottoms += arr[:, col]

def bw(ax, xl, labels, ysize=4.8, xsize=4.8, rot=0):
    ax.set_xlim(*xl); ax.set_ylim(0, 1)
    ax.set_yticks([0, .25, .5, .75, 1]); ax.set_yticklabels(['0.00', '0.25', '0.50', '0.75', '1.00'])
    ax.set_xticks(range(1, len(labels) + 1)); ax.set_xticklabels(labels, rotation=rot)
    ax.tick_params(axis='y', labelsize=ysize, length=2, width=.5, pad=1, colors='#444444')
    ax.tick_params(axis='x', labelsize=xsize, length=2, width=.5, pad=1, colors='#444444')
    ax.grid(axis='y', color='#eeeeee', lw=.5, zorder=0)
    ax.set_yticks([.125, .375, .625, .875], minor=True); ax.tick_params(axis='y', which='minor', length=0)
    ax.grid(axis='y', which='minor', color='#f4f4f4', lw=.4, zorder=0)
    for sp in ax.spines.values():
        sp.set_color('#b8bcc0'); sp.set_linewidth(.9)

ax = AX(481, 46, 624, 281); stacked(ax, stack_K); bw(ax, (.4, 12.6), samples_K, xsize=4, rot=90)
T(454, 163, 'Percent', size=5.8, ha='center', rotation=90)
T(553, 300, 'Keloid', size=6.5, ha='center')
ax = AX(660, 46, 803, 280); stacked(ax, stack_N); bw(ax, (.4, 11.6), samples_N, xsize=4, rot=90)
T(635, 163, 'Percent', size=5.8, ha='center', rotation=90)
T(731, 300, 'Normal', size=6.5, ha='center')
ax = AX(838.5, 46.7, 1015.4, 286); stacked(ax, stack_total); bw(ax, (.407, 2.59), ['Keloid', 'Normal'], xsize=5)
T(814, 166, 'Percent', size=5.8, ha='center', rotation=90)
T(1028, 110, 'Cell Type', size=6.5)
by = [123.7, 135.7, 147.7, 160, 172, 184, 196, 208, 220]
for i, n in enumerate(cell_types):
    RECT(1029, by[i] - 5.6, 1040.6, by[i] + 5.6, bar_colors[i])
    T(1045, by[i], n, size=5)

# ---------- C ----------
axl = AX(502.5, 341.7, 754.7, 646.7)
classic(axl, [-15, -10, -5, 0, 5, 10], [-10, -5, 0, 5, 10], (-15.8, 10.34), (-12.2, 10.67), size=6.3)
umap_types(axl, cdc2_x, cdc2_y, mac_x, mac_y, s=5.5, s2=4)
axl.spines['bottom'].set_color('#555555'); axl.spines['bottom'].set_linewidth(1.2)
axr = AX(758, 341.7, 1007, 646.7)
classic(axr, [-15, -10, -5, 0, 5, 10], [], (-15.8, 10.08), (-12.2, 10.67), size=6.3)
axr.spines['left'].set_visible(False)
axr.spines['bottom'].set_color('#555555'); axr.spines['bottom'].set_linewidth(1.2)
umap_types(axr, cdc2n_x, cdc2n_y, macn_x, macn_y, s=5, s2=4)
T(673, 339, 'Keloid', size=11, ha='center', family='Liberation Serif')
T(932, 339, 'Normal', size=11, ha='center', family='Liberation Serif')
T(754, 668, 'UMAP_1', size=7.2, ha='center')
T(473, 494, 'UMAP_2', size=7.2, ha='center', rotation=90)
cy = [456.7, 467, 477, 487, 496.7, 506.7, 516.7, 526.7, 537]
for i, n in enumerate(cell_types):
    DOT(1028, cy[i], type_colors[i], size=4.5); T(1039, cy[i], n, size=6.5)

# ---------- D ----------
hd = np.array([[digit_values[int(c)] for c in r.replace(' ', '')] for r in heat_d])
edges = [0.0]
for w, n in zip(cluster_share_d, cluster_cols_d):
    for _ in range(n):
        edges.append(edges[-1] + w / n)
ax = AX(1163, 69.3, 1395.3, 571.5)
ax.pcolormesh(edges, np.arange(len(genes_d) + 1), hd, cmap=expr_cmap, vmin=-1.1, vmax=2.3)
ax.set_ylim(len(genes_d), 0); ax.set_xlim(edges[0], edges[-1])
ax.set_xticks([]); ax.set_yticks(np.arange(len(genes_d)) + .5); ax.set_yticklabels(genes_d)
ax.tick_params(axis='y', labelsize=3.9, length=0, pad=1.5)
for sp in ax.spines.values(): sp.set_visible(False)
for x in np.cumsum(cluster_share_d)[:-1]:
    ax.axvline(x, color='#a8b4bc', lw=.5)
tot = sum(cluster_share_d); acc = 0
for w, c in zip(cluster_share_d, type_colors):
    RECT(1163 + 232.3 * acc / tot, 50.7, 1163 + 232.3 * (acc + w) / tot - .6, 61, c); acc += w
T(1412, 224, 'Expression', size=7.5)
cb = AX(1411.7, 234, 1422.3, 283.7); cb.imshow(np.linspace(2.3, -1.1, 128)[:, None], aspect='auto', cmap=expr_cmap, vmin=-1.1, vmax=2.3); cb.axis('off')
for s, y in [('2', 240.7), ('1', 253), ('0', 265), ('−1', 277.4)]:
    T(1428, y, s, size=6.3)
T(1412, 306, 'Identity', size=7.5)
dy = [320, 330.4, 340.4, 350.4, 360.4, 370.4, 380.7, 390.7, 400.4]
for i, n in enumerate(cell_types):
    DOT(1416.7, dy[i], type_colors[i], size=2.8); T(1427, dy[i], n, size=6.5)

# ---------- E1 ----------
def pts(*groups):
    return np.array([p for g in groups for p in g])
M1 = pts(mp_TL, mp_L, mp_IN)
M2 = pts(mp_TR, mp_R, mp_LR, mp_BL, mp_BC)
ax = AX(54, 698, 355.7, 1006.3)
classic(ax, [-6, -3, 0, 3, 6], [-2.5, 0, 2.5], (-6.09, 6.58), (-4.94, 4.98), size=8, ylabels=['−2.5', '0.0', '2.5'], xlabels=['−6', '−3', '0', '3', '6'])
ax.scatter(M1[:, 0], M1[:, 1], s=5, lw=0, c=[e_sample_colors[m1_codes[i % 13]] for i in range(len(M1))])
ax.scatter(M2[:, 0], M2[:, 1], s=5, lw=0, c=[e_sample_colors[m2_codes[i % 13]] for i in range(len(M2))])
T(204, 1035.7, 'UMAP_1', size=9.4, ha='center')
T(13, 852.7, 'UMAP_2', size=9.4, ha='center', rotation=90)
ey = [320, 362, 404, 446, 488, 530, 571, 613, 655, 697, 739]
for i, s in enumerate(e_samples_K):
    DOT(382, 680 + ey[i] / 3, e_colors_K[i], size=5.2); T(396, 680 + ey[i] / 3, s, size=8.1)
for i, s in enumerate(e_samples_N):
    DOT(430, 680 + ey[i] / 3, e_colors_N[i], size=5.2); T(443, 680 + ey[i] / 3, s, size=8.1)

# ---------- E2 ----------
ax = AX(519.4, 698, 851, 1011)
classic(ax, [-6, -3, 0, 3, 6], [-2.5, 0, 2.5], (-6.13, 6.57), (-4.94, 4.94), size=6, ylabels=['−2.5', '0.0', '2.5'], xlabels=['−6', '−3', '0', '3', '6'])
ax.scatter(M2[:, 0], M2[:, 1], s=3.5, lw=0, c='#2c7cb8')
ax.scatter(M1[:, 0], M1[:, 1], s=3.5, lw=0, c='#f9952c')
ax.text(-3.22, .73, 'M1Macrophages', fontsize=6.5, ha='center', va='center')
ax.text(2.32, -.84, 'M2Macrophages', fontsize=6.5, ha='center', va='center')
T(685, 1032.7, 'UMAP_1', size=6.5, ha='center')
T(487, 854, 'UMAP_2', size=6.5, ha='center', rotation=90)

# ---------- E3 ----------
axl = AX(944.8, 705, 1192.5, 1011)
classic(axl, [-6, -3, 0, 3, 6], [-2.5, 0, 2.5], (-6.12, 6.64), (-4.95, 4.95), size=6, ylabels=['−2.5', '0.0', '2.5'], xlabels=['−6', '−3', '0', '3', '6'])
axl.scatter(M2[:, 0], M2[:, 1], s=5.5, lw=0, c='#0a62a8')
axl.scatter(M1[:, 0], M1[:, 1], s=5.5, lw=0, c='#ff7f0e')
axr = AX(1198, 705, 1445, 1011)
classic(axr, [-6, -3, 0, 3, 6], [], (-6.12, 6.61), (-4.95, 4.95), size=6, xlabels=['−6', '−3', '0', '3', '6'])
axr.spines['left'].set_visible(False)
axr.scatter(M2[::2, 0], M2[::2, 1], s=5.5, lw=0, c='#0a62a8')
axr.scatter(M1[::2, 0], M1[::2, 1], s=5.5, lw=0, c='#ff7f0e')
for a in (axl, axr):
    a.spines['bottom'].set_color('#666666'); a.spines['bottom'].set_linewidth(1.2)
T(1067, 709, 'Keloid', size=11, ha='center', family='Liberation Serif')
T(1314, 709, 'Normal', size=11, ha='center', family='Liberation Serif')
T(1194, 1031.7, 'UMAP_1', size=6.5, ha='center')
T(913, 857, 'UMAP_2', size=6.5, ha='center', rotation=90)
DOT(1466, 855, '#0a62a8', 4.5); T(1476.8, 855, 'M2Macrophages', size=6.5)
DOT(1466, 866, '#ff7f0e', 4.5); T(1476.8, 866, 'M1Macrophages', size=6.5)

# ---------- F ----------
ax = AX(57, 1131, 263, 1384.7)
x12 = np.array([1, 2])
ax.bar(x12, m1_share, .9, color=bar_colors[1], lw=0, zorder=3)
ax.bar(x12, 1 - np.array(m1_share), .9, bottom=m1_share, color=bar_colors[0], lw=0, zorder=3)
bw(ax, (.408, 2.59), ['Keloid', 'Normal'], ysize=5, xsize=5.2)
T(32.6, 1258, 'Percent', size=5.8, ha='center', rotation=90)
T(86, 1113, 'Cell Type', size=6.5, ha='center')
RECT(109, 1107.7, 121, 1119, bar_colors[0]); T(125.4, 1113.5, 'M2 Macrophages', size=5)
RECT(182.6, 1107.7, 194.6, 1119, bar_colors[1]); T(198.7, 1113.5, 'M1 Macrophages', size=5)

# ---------- G ----------
hg = np.array([[digit_values[int(c)] for c in r.replace(' ', '')] for r in heat_g])
ax = AX(325, 1078.3, 557.6, 1402)
ax.pcolormesh(np.arange(hg.shape[1] + 1), np.arange(len(genes_g) + 1), hg, cmap=expr_cmap, vmin=-1.1, vmax=2.3)
ax.set_ylim(len(genes_g), 0)
ax.set_xticks([]); ax.set_yticks(np.arange(len(genes_g)) + .5); ax.set_yticklabels(genes_g)
ax.tick_params(axis='y', labelsize=4.8, length=0, pad=5)
for sp in ax.spines.values(): sp.set_visible(False)
RECT(325, 1066, 440.6, 1072, '#0a62a8'); RECT(441, 1066, 557.6, 1072, '#ff7f0e')
T(573.7, 1184, 'Expression', size=7.5)
cb = AX(573.7, 1194.3, 584.4, 1244.3); cb.imshow(np.linspace(2.3, -1.1, 128)[:, None], aspect='auto', cmap=expr_cmap, vmin=-1.1, vmax=2.3); cb.axis('off')
for s, y in [('2', 1201.3), ('1', 1213), ('0', 1225), ('−1', 1236.7)]:
    T(589, y, s, size=6.3)
T(573.7, 1266.7, 'Identity', size=7.5)
DOT(579, 1281, '#0a62a8', 2.8); T(590, 1281, 'M2Macrophages', size=6.5)
DOT(579, 1291, '#ff7f0e', 2.8); T(590, 1291, 'M1Macrophages', size=6.5)

# ---------- I ----------
regions = [mp_TL, mp_L, mp_IN, mp_TR, mp_R, mp_LR, mp_BL, mp_BC]
allp = pts(*regions)
for m, name in enumerate(module_names_i):
    col, row = m % 4, m // 4
    left = 726.5 + col * 156.7; top = 1070 + row * 121.3
    ax = AX(left, top, left + 131, top + 87)
    ax.axis('off'); ax.set_xlim(-6.1, 6.6); ax.set_ylim(-4.94, 4.98)
    vals = np.concatenate([np.full(len(g), module_scores[m][k]) for k, g in enumerate(regions)])
    vals = vals + np.array([score_spread[i % len(score_spread)] for i in range(len(vals))])
    ax.scatter(allp[:, 0], allp[:, 1], s=1.6, lw=0, c=np.clip(vals, -1, 1), cmap='viridis', vmin=-1, vmax=1)
    T(791 + col * 156.7, 1066.3 + row * 121.3, name, size=5, ha='center', family='DejaVu Sans')
cb = AX(1361.6, 1235, 1366.4, 1294.3); cb.imshow(np.linspace(1, -1, 128)[:, None], aspect='auto', cmap='viridis'); cb.axis('off')
T(1369, 1236, '1', size=3.6, family='DejaVu Sans'); T(1369, 1294, '−1', size=3.6, family='DejaVu Sans')
T(1386.6, 1264, 'Module\nScore', size=3.6, ha='center', rotation=270, family='DejaVu Sans')

# ---------- H ----------
def zdec(ch):
    if ch == 'x': return 12
    if ch.isdigit(): return 1.2 * int(ch)
    return -1.15 * (ord(ch) - ord('a') + 1)
hm = np.array([[zdec(c) for c in r.replace(' ', '')] for r in h_rows], dtype=float)
ax = AX(159.6, 1550, 558.5, 1910.7)
ax.pcolormesh(h_edges, h_edges, hm, cmap='RdBu_r', vmin=-11.6, vmax=12.2)
ax.set_xlim(390, 1472); ax.set_ylim(1472, 390)
ax.plot([390, 1472], [390, 1472], color='#f4dcd4', lw=.5)
ax.axis('off')
ax = AX(159.6, 1462.7, 558.5, 1549)
ax.fill_between(dend_x, 0, dend_h, color='#9c9c9c', lw=0)
for x1, x2, y, y2 in dend_links:
    ax.plot([x1, x1, x2, x2], [y2, y, y, y2], color='#bdbdbd', lw=.7)
ax.set_xlim(0, 1097); ax.set_ylim(0, 259); ax.axis('off')
for n, (a, b), c, ly in zip(h_modules, h_mod_span, h_mod_color, h_mod_labely):
    RECT(142.5, 1420 + a / 3, 158.5, 1420 + b / 3, c)
    T(135, 1420 + ly / 3, n, size=5, ha='right', family='DejaVu Sans')
cb = AX(41.5, 1460.7, 68.4, 1550.7); cb.imshow(np.linspace(12.2, -11.6, 128)[:, None], aspect='auto', cmap='RdBu_r'); cb.axis('off')
for s, y in [('10', 1469), ('5', 1488), ('0', 1507), ('−5', 1525.7), ('−10', 1544.7)]:
    T(74.5, y, s, size=5.2, family='DejaVu Sans')
T(34.5, 1506.7, 'Z-Scores', size=5, ha='center', rotation=90, family='DejaVu Sans')

# ---------- J ----------
def traj(ax, data, main, branches):
    for k, plist in data.items():
        p = np.array(plist)
        ax.scatter(p[:, 0], p[:, 1], s=4.5, lw=0, c=colors_j[clusters_j.index(k)], zorder=2)
    m = np.array(main)
    ax.plot(m[:, 0], m[:, 1], color='k', lw=1.2, zorder=3)
    for b in branches:
        b = np.array(b)
        ax.plot(b[:, 0], b[:, 1], color='k', lw=1.2, zorder=3)

jx = [-5, -2.5, 0, 2.5, 5]; jxl = ['−5.0', '−2.5', '0.0', '2.5', '5.0']
ax = AX(751.3, 1632.7, 1047, 1893.7)
classic(ax, jx, [-2, -1, 0, 1, 2, 3], (-5.11, 6.96), (-2.41, 3.02), size=5.5, xlabels=jxl, ylabels=['−2', '−1', '0', '1', '2', '3'])
traj(ax, pts_k, traj_main_k, traj_branches_k)
ax.tick_params(colors='#555555')
ax.spines['left'].set_color('#888888'); ax.spines['bottom'].set_color('#888888')
ax = AX(1049, 1632.7, 1344, 1893.7)
classic(ax, jx, [], (-5.27, 6.78), (-2.41, 3.02), size=5.5, xlabels=jxl)
traj(ax, pts_n, traj_main_n, traj_branches_n)
ax.tick_params(colors='#555555')
ax.spines['left'].set_visible(False); ax.spines['bottom'].set_color('#888888')
T(899, 1625.7, 'K', size=5.3, ha='center', color='#333333')
T(1200, 1625.7, 'N', size=5.3, ha='center', color='#333333')
T(1049, 1907, 'Component 1', size=6.8, ha='center')
T(729.6, 1766, 'Component 2', size=6.8, ha='center', rotation=90)
T(935, 1578, 'Cluster', size=6.8, ha='center')
lx = [963, 1022.4, 1082, 1137]; ltx = [975.6, 1035, 1094.7, 1149.7]; ly = [1560.3, 1578.7, 1597.7]
for i, n in enumerate(clusters_j):
    c = i // 3; r = i % 3
    DOT(lx[c], ly[r], colors_j[i], 2.4)
    T(ltx[c], ly[r], n, size=5.2)

fig.savefig('out.png', dpi=100)
